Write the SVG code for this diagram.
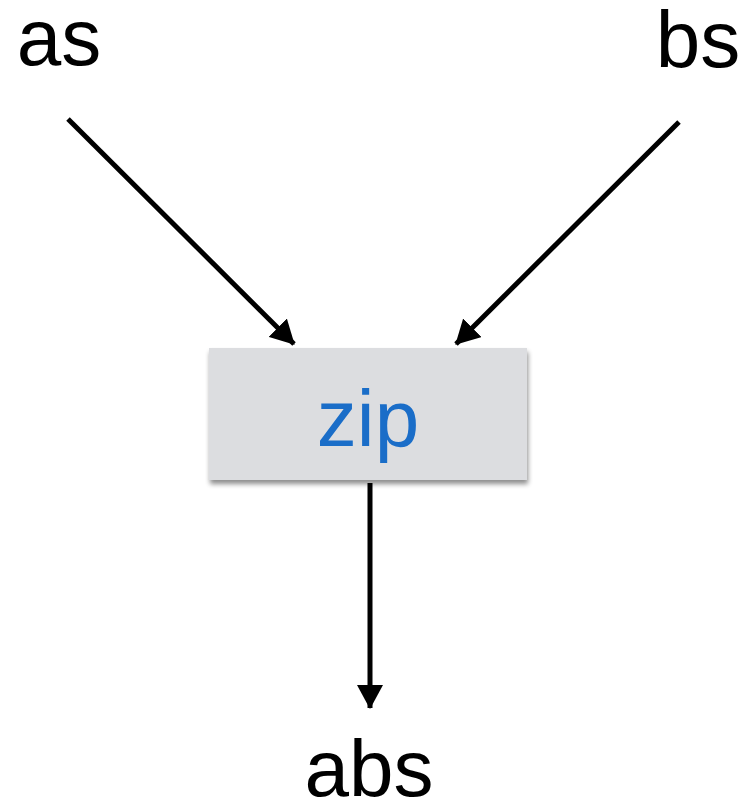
<svg xmlns="http://www.w3.org/2000/svg" width="749" height="809" viewBox="0 0 749 809">
<defs>
<marker id="ah" viewBox="0 0 24 26" refX="23" refY="13" markerWidth="24" markerHeight="26" markerUnits="userSpaceOnUse" orient="auto">
<path d="M0,0 L24,13 L0,26 Z" fill="#000"/>
</marker>
<filter id="sh" x="-10%" y="-10%" width="125%" height="130%">
<feGaussianBlur in="SourceAlpha" stdDeviation="2.5"/>
<feOffset dx="1" dy="4" result="b"/>
<feComponentTransfer><feFuncA type="linear" slope="0.45"/></feComponentTransfer>
<feMerge><feMergeNode/><feMergeNode in="SourceGraphic"/></feMerge>
</filter>
</defs>
<style>
.lbl{font-family:"Helvetica Neue","Liberation Sans",Arial,sans-serif;font-size:80px;font-weight:300;fill:#000;text-anchor:middle}
.edge{stroke:#000;stroke-width:5;fill:none;marker-end:url(#ah)}
</style>
<rect width="749" height="809" fill="#fff"/>
<g id="edges">
<line class="edge" x1="68" y1="119" x2="294" y2="344"/>
<line class="edge" x1="679" y1="122" x2="456" y2="344"/>
<line class="edge" x1="370" y1="483" x2="370" y2="708"/>
</g>
<g id="node-as"><text class="lbl" x="59" y="65">as</text></g>
<g id="node-bs"><text class="lbl" x="698" y="67">bs</text></g>
<g id="node-zip">
<rect x="209" y="348" width="318" height="132" fill="#dcdde0" filter="url(#sh)"/>
<text class="lbl" x="368" y="446" style="fill:#1a6dc8">zip</text>
</g>
<g id="node-abs"><text class="lbl" x="369" y="796">abs</text></g>
</svg>
